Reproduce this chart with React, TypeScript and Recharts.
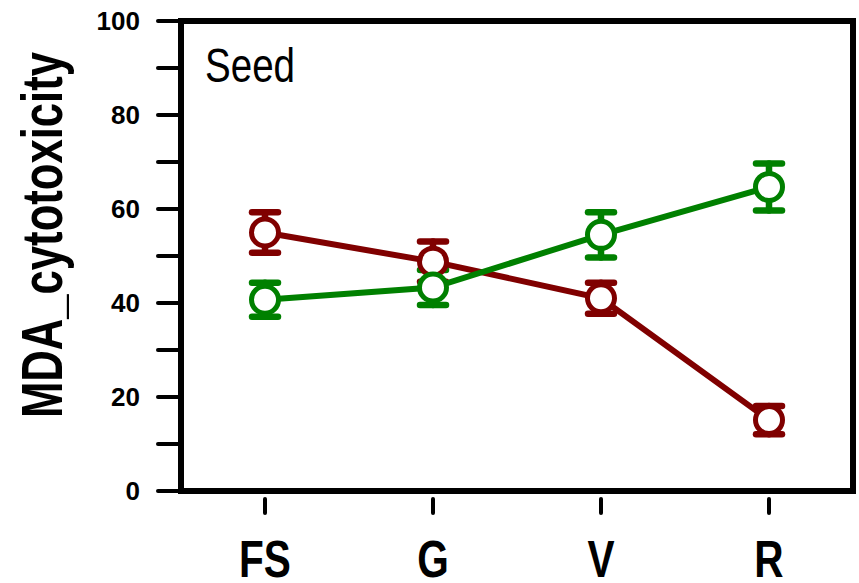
import React from "react";
import { LineChart, Line, XAxis, YAxis, ErrorBar } from "recharts";

const categories = ["FS", "G", "V", "R"];
const redMean = [55.0, 48.8, 41.0, 15.1];
const redErr = [4.3, 4.3, 3.3, 3.0];
const greenMean = [40.7, 43.3, 54.5, 64.7];
const greenErr = [3.6, 3.7, 4.8, 5.0];
const yTicks = [0, 10, 20, 30, 40, 50, 60, 70, 80, 90, 100];

const RED = "#800000";
const GREEN = "#008000";
const FONT = "'Liberation Sans', Arial, sans-serif";
const FRAME = { stroke: "#000", strokeWidth: 6, strokeLinecap: "square" as const };
const PAD = { left: 84, right: 84 };

const data = categories.map((cat, i) => ({
  cat,
  red: redMean[i],
  redErr: redErr[i],
  green: greenMean[i],
  greenErr: greenErr[i],
}));

const YTick = ({ x, y, payload }: { x: number; y: number; payload: { value: number } }) => {
  if (payload.value % 20 !== 0) return null;
  return (
    <text
      x={x}
      y={y}
      dx={-3}
      dy={9}
      textAnchor="end"
      fill="#000"
      style={{ fontFamily: FONT, fontWeight: 700, fontSize: 26 }}
    >
      {payload.value}
    </text>
  );
};

const XTick = ({ x, y, payload }: { x: number; y: number; payload: { value: string } }) => (
  <g>
    <line x1={x} x2={x} y1={y + 8} y2={y + 22} stroke="#000" strokeWidth={4} strokeLinecap="round" />
    <text
      transform={`translate(${x}, ${y + 86}) scale(0.78, 1)`}
      textAnchor="middle"
      fill="#000"
      style={{ fontFamily: FONT, fontWeight: 700, fontSize: 52 }}
    >
      {payload.value}
    </text>
  </g>
);

export default function App() {
  return (
    <div style={{ position: "absolute", left: 0, top: 0, background: "#fff" }}>
      <LineChart width={859} height={583} data={data} margin={{ top: 20, right: 5, left: 0, bottom: 0 }}>
        <XAxis
          dataKey="cat"
          height={92}
          padding={PAD}
          axisLine={FRAME}
          tickLine={false}
          tickSize={0}
          tickMargin={0}
          tick={XTick}
          interval={0}
        />
        <XAxis
          xAxisId="top"
          orientation="top"
          dataKey="cat"
          height={1}
          padding={PAD}
          axisLine={FRAME}
          tick={false}
          tickLine={false}
        />
        <YAxis
          width={181}
          domain={[0, 100]}
          ticks={yTicks}
          interval={0}
          axisLine={FRAME}
          tickSize={23}
          tickMargin={15}
          tickLine={{ stroke: "#000", strokeWidth: 4, strokeLinecap: "round" }}
          tick={YTick}
          label={{
            content: () => (
              <text
                x={62}
                y={235}
                transform="rotate(-90, 62, 235)"
                textAnchor="middle"
                textLength={366}
                lengthAdjust="spacingAndGlyphs"
                fill="#000"
                style={{ fontFamily: FONT, fontWeight: 700, fontSize: 58 }}
              >
                MDA_cytotoxicity
              </text>
            ),
          }}
        />
        <YAxis
          yAxisId="right"
          orientation="right"
          width={1}
          domain={[0, 100]}
          axisLine={FRAME}
          tick={false}
          tickLine={false}
        />
        <Line
          dataKey="red"
          type="linear"
          stroke={RED}
          strokeWidth={6}
          dot={{ r: 13.5, fill: "#fff", stroke: RED, strokeWidth: 5 }}
          isAnimationActive={false}
        >
          <ErrorBar dataKey="redErr" direction="y" width={13} stroke={RED} strokeWidth={6.5} strokeLinecap="round" />
        </Line>
        <Line
          dataKey="green"
          xAxisId="top"
          yAxisId="right"
          type="linear"
          stroke={GREEN}
          strokeWidth={6}
          dot={{ r: 13.5, fill: "#fff", stroke: GREEN, strokeWidth: 5 }}
          isAnimationActive={false}
        >
          <ErrorBar dataKey="greenErr" direction="y" width={13} stroke={GREEN} strokeWidth={6.5} strokeLinecap="round" />
        </Line>
        <text
          x={205}
          y={82}
          textLength={90}
          lengthAdjust="spacingAndGlyphs"
          fill="#000"
          style={{ fontFamily: FONT, fontSize: 48 }}
        >
          Seed
        </text>
      </LineChart>
    </div>
  );
}
